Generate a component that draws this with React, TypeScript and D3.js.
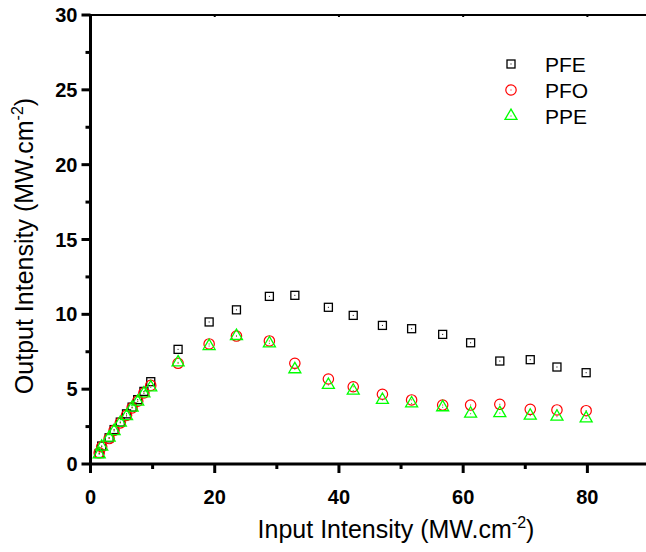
import React from "react";
import * as d3 from "d3";

const inputIntensity = [1.4, 1.8, 3.0, 3.8, 4.8, 5.8, 6.7, 7.6, 8.6, 9.7, 14.1, 19.1, 23.5, 28.8, 32.9, 38.3, 42.3, 47, 51.7, 56.7, 61.2, 65.9, 70.8, 75.1, 79.8];
const pfe = [0.7, 1.2, 1.75, 2.3, 2.8, 3.35, 3.8, 4.3, 4.85, 5.5, 7.66, 9.49, 10.3, 11.2, 11.27, 10.47, 9.93, 9.26, 9.04, 8.66, 8.1, 6.88, 6.97, 6.48, 6.1];
const pfo = [0.75, 1.15, 1.7, 2.25, 2.75, 3.25, 3.75, 4.2, 4.75, 5.25, 6.73, 8.02, 8.55, 8.22, 6.73, 5.68, 5.16, 4.66, 4.28, 3.94, 3.94, 3.99, 3.65, 3.61, 3.56];
const ppe = [0.65, 1.16, 1.76, 2.2, 2.76, 3.2, 3.76, 4.16, 4.72, 5.12, 6.79, 7.88, 8.55, 8.06, 6.33, 5.28, 4.9, 4.28, 4.05, 3.79, 3.36, 3.4, 3.23, 3.16, 3.05];
const seriesNames = ["PFE", "PFO", "PPE"];
const xMajorTicks = [0, 20, 40, 60, 80];
const xMinorTicks = [10, 30, 50, 70];
const yMajorTicks = [0, 5, 10, 15, 20, 25, 30];
const yMinorTicks = [2.5, 7.5, 12.5, 17.5, 22.5, 27.5];

const W = 646, H = 552;
const x = d3.scaleLinear().domain([0, 90]).range([90.5, 649.5]);
const y = d3.scaleLinear().domain([0, 30]).range([464, 15]);
const FONT = "'Liberation Sans', Arial, sans-serif";

function Marker({ kind, cx, cy }: { kind: string; cx: number; cy: number }) {
  if (kind === "PFE") {
    const s = 8;
    return (
      <g>
        <rect x={cx - s / 2} y={cy - s / 2} width={s} height={s} fill="none" stroke="#000" strokeWidth={1.3} />
        <rect x={cx - 0.5} y={cy - 0.5} width={1} height={1} fill="#000" />
      </g>
    );
  }
  if (kind === "PFO") {
    return (
      <g>
        <circle cx={cx} cy={cy} r={5.2} fill="none" stroke="#ff0000" strokeWidth={1.2} />
        <rect x={cx - 0.5} y={cy - 0.5} width={1} height={1} fill="#ff0000" />
      </g>
    );
  }
  const s = 12;
  const h = s * Math.sqrt(3) / 2;
  const p = `M${cx},${cy - h * 2 / 3}L${cx + s / 2},${cy + h / 3}L${cx - s / 2},${cy + h / 3}Z`;
  return (
    <g>
      <path d={p} fill="none" stroke="#00ff00" strokeWidth={1.3} />
      <rect x={cx - 0.5} y={cy - 0.5} width={1} height={1} fill="#00cc00" />
    </g>
  );
}

export default function App() {
  const series = [pfe, pfo, ppe];
  const x0 = x(0), y0 = y(0), yTop = y(30);
  return (
    <svg width={W} height={H} style={{ position: "absolute", left: 0, top: 0, background: "#fff" }}>
      <rect width={W} height={H} fill="#fff" />
      {/* frame */}
      <line x1={x0} x2={W + 5} y1={yTop} y2={yTop} stroke="#000" strokeWidth={2} />
      <line x1={x0} x2={W + 5} y1={y0} y2={y0} stroke="#000" strokeWidth={3} />
      <line x1={x0} x2={x0} y1={yTop - 1} y2={y0 + 1.5} stroke="#000" strokeWidth={3} />
      {/* x ticks */}
      {xMajorTicks.map((t) => (
        <g key={"xM" + t}>
          <line x1={x(t)} x2={x(t)} y1={y0} y2={y0 + 9} stroke="#000" strokeWidth={3} />
          <line x1={x(t)} x2={x(t)} y1={yTop} y2={yTop + 2} stroke="#000" strokeWidth={2} />
          <text x={x(t)} y={y0 + 40} textAnchor="middle" fontFamily={FONT} fontWeight="bold" fontSize={20}>{t}</text>
        </g>
      ))}
      {xMinorTicks.map((t) => (
        <line key={"xm" + t} x1={x(t)} x2={x(t)} y1={y0} y2={y0 + 5} stroke="#000" strokeWidth={3} />
      ))}
      {/* y ticks */}
      {yMajorTicks.map((t) => (
        <g key={"yM" + t}>
          <line x1={x0} x2={x0 - 9} y1={y(t)} y2={y(t)} stroke="#000" strokeWidth={3} />
          <text x={x0 - 13} y={y(t) + 7} textAnchor="end" fontFamily={FONT} fontWeight="bold" fontSize={20}>{t}</text>
        </g>
      ))}
      {yMinorTicks.map((t) => (
        <line key={"ym" + t} x1={x0} x2={x0 - 5} y1={y(t)} y2={y(t)} stroke="#000" strokeWidth={3} />
      ))}
      {/* axis titles */}
      <text x={396} y={538} textAnchor="middle" fontFamily={FONT} fontSize={25}>
        Input Intensity (MW.cm<tspan dy={-10} fontSize={16}>-2</tspan><tspan dy={10}>)</tspan>
      </text>
      <text transform={`translate(33, 246) rotate(-90)`} textAnchor="middle" fontFamily={FONT} fontSize={25}>
        Output Intensity (MW.cm<tspan dy={-10} fontSize={16}>-2</tspan><tspan dy={10}>)</tspan>
      </text>
      {/* data */}
      {seriesNames.map((name, si) => (
        <g key={name}>
          {series[si].map((v, i) => (
            <Marker key={i} kind={name} cx={x(inputIntensity[i])} cy={y(v)} />
          ))}
        </g>
      ))}
      {/* legend */}
      {seriesNames.map((name, i) => (
        <g key={"lg" + name}>
          <Marker kind={name} cx={511} cy={64 + i * 26} />
          <text x={545} y={64 + i * 26 + 7.5} fontFamily={FONT} fontSize={21}>{name}</text>
        </g>
      ))}
    </svg>
  );
}
